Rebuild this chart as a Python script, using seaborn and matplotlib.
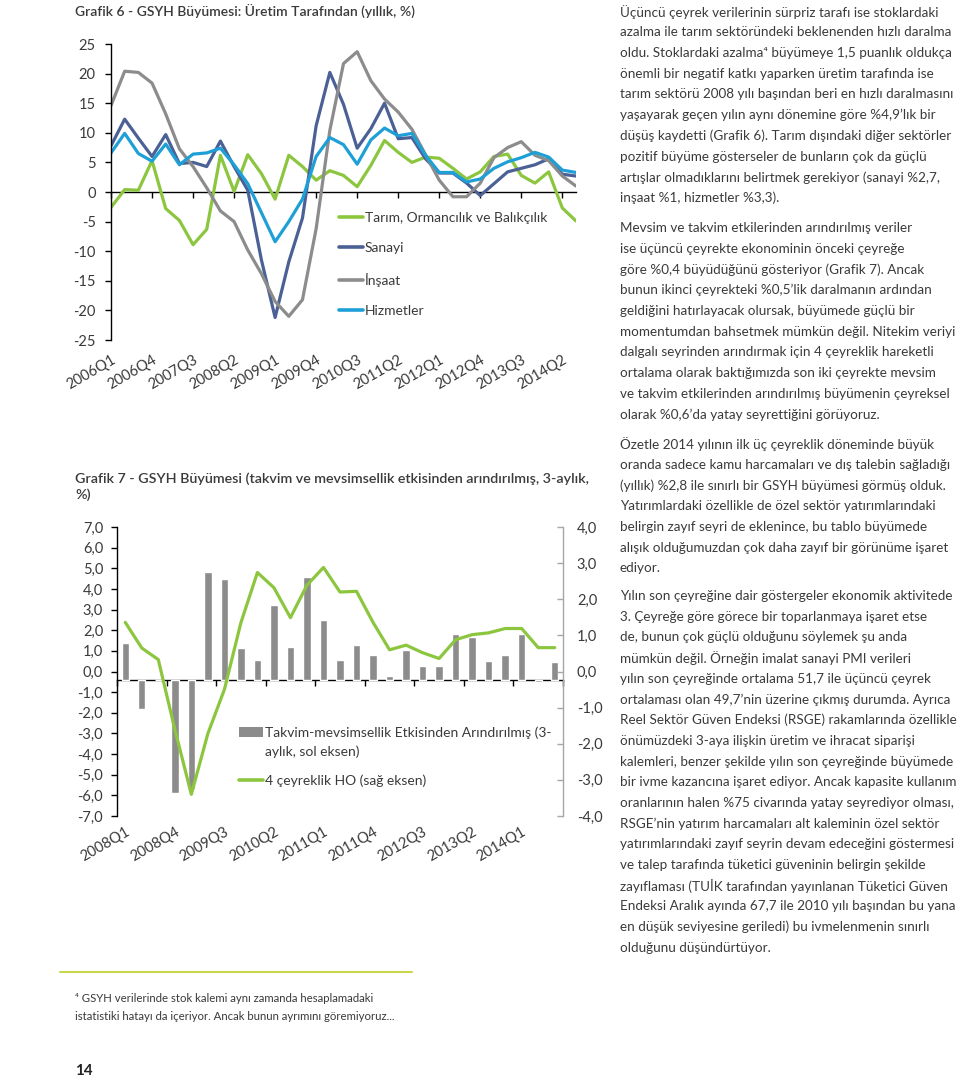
import matplotlib
matplotlib.use('Agg')
import matplotlib.pyplot as plt
from matplotlib.patches import Patch
from matplotlib.lines import Line2D
import seaborn as sns
import numpy as np
import pandas as pd

# ---- Grafik 6 data (yıllık %, 2006Q1-2014Q3) ----
quarters = [f'{y}Q{q}' for y in range(2006, 2015) for q in range(1, 5)][:35]
tarim = [-2.6, 0.4, 0.3, 5.3, -2.8, -4.8, -8.9, -6.3, 6.2, 0.1, 6.3, 3.1, -1.2, 6.2, 4.3, 2.0, 3.6, 2.8,
         0.9, 4.5, 8.7, 6.7, 5.0, 5.9, 5.7, 4.0, 2.2, 3.4, 6.0, 6.4, 2.8, 1.5, 3.4, -2.7, -4.9]
sanayi = [7.8, 12.3, 9.1, 6.0, 9.7, 4.8, 5.0, 4.3, 8.6, 4.3, 0.3, -11.5, -21.2, -11.8, -4.4, 11.2, 20.2, 14.8,
          7.4, 10.7, 15.0, 9.0, 9.2, 5.6, 3.2, 3.2, 1.5, -0.6, 1.4, 3.4, 4.0, 4.6, 5.6, 3.0, 2.7]
insaat = [14.6, 20.4, 20.2, 18.4, 13.2, 7.3, 4.3, 0.7, -3.2, -5.0, -9.8, -13.8, -18.5, -21.0, -18.2, -6.2, 10.4, 21.7,
          23.7, 18.8, 15.7, 13.5, 10.6, 6.3, 2.0, -0.8, -0.8, 1.5, 5.8, 7.5, 8.5, 6.2, 5.3, 2.7, 1.0]
hizmetler = [6.6, 9.9, 6.5, 5.2, 8.1, 4.6, 6.4, 6.6, 7.4, 4.6, 1.4, -3.5, -8.4, -5.0, -1.2, 6.0, 9.2, 8.0,
             4.7, 8.8, 10.8, 9.5, 9.9, 6.2, 3.3, 3.3, 1.7, 2.2, 4.0, 5.1, 5.8, 6.7, 5.9, 3.7, 3.3]
sectors = ['Tarım, Ormancılık ve Balıkçılık', 'Sanayi', 'İnşaat', 'Hizmetler']
sector_colors = ['#8cc63f', '#4b6196', '#8c8c8c', '#1ea0d7']

# ---- Grafik 7 data (2008Q1-2014Q3) ----
quarters7 = quarters[8:]
mevsim = [1.4, -1.8, -0.4, -5.9, -5.7, 4.8, 4.5, 1.15, 0.55, 3.2, 1.2, 4.6, 2.5, 0.55, 1.3, 0.8, -0.24,
          1.05, 0.27, 0.27, 1.8, 1.65, 0.5, 0.8, 1.8, -0.5, 0.44]
ho4 = [1.36, 0.65, 0.33, -1.6, -3.4, -1.72, -0.5, 1.35, 2.74, 2.32, 1.49, 2.39, 2.88, 2.2, 2.22, 1.36, 0.6,
       0.73, 0.52, 0.36, 0.88, 1.02, 1.07, 1.19, 1.19, 0.66, 0.66]
axis_cross = -0.42
green = '#8cc63f'
bar_gray = '#8c8c8c'

paragraphs = [
    ['Üçüncü çeyrek verilerinin sürpriz tarafı ise stoklardaki',
     'azalma ile tarım sektöründeki beklenenden hızlı daralma',
     'oldu. Stoklardaki azalma⁴ büyümeye 1,5 puanlık oldukça',
     'önemli bir negatif katkı yaparken üretim tarafında ise',
     'tarım sektörü 2008 yılı başından beri en hızlı daralmasını',
     'yaşayarak geçen yılın aynı dönemine göre %4,9’lık bir',
     'düşüş kaydetti (Grafik 6). Tarım dışındaki diğer sektörler',
     'pozitif büyüme gösterseler de bunların çok da güçlü',
     'artışlar olmadıklarını belirtmek gerekiyor (sanayi %2,7,',
     'inşaat %1, hizmetler %3,3).'],
    ['Mevsim ve takvim etkilerinden arındırılmış veriler',
     'ise üçüncü çeyrekte ekonominin önceki çeyreğe',
     'göre %0,4 büyüdüğünü gösteriyor (Grafik 7). Ancak',
     'bunun ikinci çeyrekteki %0,5’lik daralmanın ardından',
     'geldiğini hatırlayacak olursak, büyümede güçlü bir',
     'momentumdan bahsetmek mümkün değil. Nitekim veriyi',
     'dalgalı seyrinden arındırmak için 4 çeyreklik hareketli',
     'ortalama olarak baktığımızda son iki çeyrekte mevsim',
     've takvim etkilerinden arındırılmış büyümenin çeyreksel',
     'olarak %0,6’da yatay seyrettiğini görüyoruz.'],
    ['Özetle 2014 yılının ilk üç çeyreklik döneminde büyük',
     'oranda sadece kamu harcamaları ve dış talebin sağladığı',
     '(yıllık) %2,8 ile sınırlı bir GSYH büyümesi görmüş olduk.',
     'Yatırımlardaki özellikle de özel sektör yatırımlarındaki',
     'belirgin zayıf seyri de eklenince, bu tablo büyümede',
     'alışık olduğumuzdan çok daha zayıf bir görünüme işaret',
     'ediyor.'],
    ['Yılın son çeyreğine dair göstergeler ekonomik aktivitede',
     '3. Çeyreğe göre görece bir toparlanmaya işaret etse',
     'de, bunun çok güçlü olduğunu söylemek şu anda',
     'mümkün değil. Örneğin imalat sanayi PMI verileri',
     'yılın son çeyreğinde ortalama 51,7 ile üçüncü çeyrek',
     'ortalaması olan 49,7’nin üzerine çıkmış durumda. Ayrıca',
     'Reel Sektör Güven Endeksi (RSGE) rakamlarında özellikle',
     'önümüzdeki 3-aya ilişkin üretim ve ihracat siparişi',
     'kalemleri, benzer şekilde yılın son çeyreğinde büyümede',
     'bir ivme kazancına işaret ediyor. Ancak kapasite kullanım',
     'oranlarının halen %75 civarında yatay seyrediyor olması,',
     'RSGE’nin yatırım harcamaları alt kaleminin özel sektör',
     'yatırımlarındaki zayıf seyrin devam edeceğini göstermesi',
     've talep tarafında tüketici güveninin belirgin şekilde',
     'zayıflaması (TUİK tarafından yayınlanan Tüketici Güven',
     'Endeksi Aralık ayında 67,7 ile 2010 yılı başından bu yana',
     'en düşük seviyesine geriledi) bu ivmelenmenin sınırlı',
     'olduğunu düşündürtüyor.'],
]
para_top = [11.7, 228, 444, 596]

sns.set_theme(style='white')
plt.rcParams['font.family'] = ['Lato', 'DejaVu Sans']
plt.rcParams['axes.unicode_minus'] = False
TXT = '#3a3a3a'
FS = 10

W, H = 960, 1080
fig = plt.figure(figsize=(9.6, 10.8), dpi=100)


def fx(px):
    return px / W


def fy(py):
    return 1 - py / H


def comma(v):
    return f'{v:.1f}'.replace('.', ',')


# ================= Grafik 6 =================
ax1 = fig.add_axes([fx(111), fy(340), (576 - 111) / W, (340 - 44) / H])
df6 = pd.DataFrame({'idx': np.tile(np.arange(35), 4),
                    'val': tarim + sanayi + insaat + hizmetler,
                    'seri': np.repeat(sectors, 35)})
sns.lineplot(data=df6, x='idx', y='val', hue='seri', hue_order=sectors,
             palette=sector_colors, linewidth=2.3, ax=ax1)
ax1.set_xlim(0, 34)
ax1.set_ylim(-25, 25)
ax1.set_yticks(range(-25, 26, 5))
ax1.set_xticks(range(0, 35, 3))
ax1.set_xticklabels(quarters[::3], rotation=30, ha='right', rotation_mode='anchor')
ax1.tick_params(axis='x', length=0, pad=9, labelsize=10.5, labelcolor=TXT)
ax1.tick_params(axis='y', left=True, length=4, width=1, color='black', direction='out',
                pad=7, labelsize=10.5, labelcolor=TXT)
ax1.set_xlabel('')
ax1.set_ylabel('')
for s in ['top', 'right', 'bottom']:
    ax1.spines[s].set_visible(False)
ax1.spines['left'].set_color('black')
ax1.spines['left'].set_linewidth(1)

sec1 = ax1.secondary_xaxis(0.5)
sec1.set_alignment('bottom')
sec1.set_xticks(range(0, 35, 3))
sec1.set_xticklabels([])
sec1.tick_params(axis='x', bottom=True, length=4, width=1, color='black', direction='out')
sec1.spines['bottom'].set_color('black')
sec1.spines['bottom'].set_linewidth(1)

h1, l1 = ax1.get_legend_handles_labels()
for h in h1:
    h.set_linewidth(2.6)
ax1.legend(h1, l1, loc='upper left', bbox_to_anchor=(fx(339), fy(212)),
           bbox_transform=fig.transFigure, frameon=False, fontsize=FS,
           handlelength=1.7, handletextpad=0.15, labelspacing=1.32,
           borderpad=0, borderaxespad=0, labelcolor=TXT)

fig.text(fx(75), fy(12), 'Grafik 6 - GSYH Büyümesi: Üretim Tarafından (yıllık, %)',
         fontsize=10, fontweight='semibold', color=TXT, ha='left', va='center')

# ================= Grafik 7 =================
ax2 = fig.add_axes([fx(117), fy(816), (563 - 117) / W, (816 - 527) / H])
sns.barplot(x=quarters7, y=mevsim, color=bar_gray, saturation=1, width=0.45, ax=ax2)
for p, v in zip(ax2.patches, mevsim):
    p.set_y(axis_cross)
    p.set_height(v - axis_cross)
ax2r = ax2.twinx()
sns.lineplot(x=np.arange(len(ho4)), y=ho4, color=green, linewidth=2.3, ax=ax2r)

ax2.set_xlim(-0.5, 26.5)
ax2.set_ylim(-7, 7)
ax2r.set_ylim(-4, 4)
ax2.set_yticks(np.arange(-7, 8))
ax2.set_yticklabels([comma(v) for v in np.arange(-7, 8)])
ax2r.set_yticks(np.arange(-4, 5))
ax2r.set_yticklabels([comma(v) for v in np.arange(-4, 5)])
ax2.set_xticks(range(0, 27, 3))
ax2.set_xticklabels(quarters7[::3], rotation=30, ha='right', rotation_mode='anchor')
ax2.tick_params(axis='x', length=0, pad=6, labelsize=10.5, labelcolor=TXT)
ax2.tick_params(axis='y', left=True, length=4, width=1, color='black', direction='out',
                pad=6, labelsize=10.5, labelcolor=TXT)
ax2r.tick_params(axis='y', right=True, length=4, width=1, color='#a6a6a6', direction='in',
                 pad=10, labelsize=10.5, labelcolor=TXT)
for a in (ax2, ax2r):
    a.set_xlabel('')
    a.set_ylabel('')
for s in ['top', 'right', 'bottom']:
    ax2.spines[s].set_visible(False)
for s in ['top', 'left', 'bottom']:
    ax2r.spines[s].set_visible(False)
ax2.spines['left'].set_color('black')
ax2.spines['left'].set_linewidth(1)
ax2r.spines['right'].set_color('#a6a6a6')
ax2r.spines['right'].set_linewidth(1)

sec2 = ax2.secondary_xaxis((axis_cross + 7) / 14)
sec2.set_alignment('bottom')
sec2.set_xticks(np.arange(-0.5, 27, 3))
sec2.set_xticklabels([])
sec2.tick_params(axis='x', bottom=True, length=4, width=1, color='black', direction='out')
sec2.spines['bottom'].set_color('black')
sec2.spines['bottom'].set_linewidth(1)

leg_handles = [Patch(facecolor=bar_gray, edgecolor='none'), Line2D([], [], color=green, lw=2.6)]
ax2r.legend(leg_handles, ['Takvim-mevsimsellik Etkisinden Arındırılmış (3-', '4 çeyreklik HO (sağ eksen)'],
            loc='upper left', bbox_to_anchor=(fx(239), fy(726)), bbox_transform=fig.transFigure,
            frameon=False, fontsize=FS, handlelength=1.7, handleheight=0.7, handletextpad=0.15,
            labelspacing=2.55, borderpad=0, borderaxespad=0, labelcolor=TXT)
fig.text(fx(265), fy(752), 'aylık, sol eksen)', fontsize=FS, color=TXT, ha='left', va='center')

fig.text(fx(75), fy(479), 'Grafik 7 - GSYH Büyümesi (takvim ve mevsimsellik etkisinden arındırılmış, 3-aylık,',
         fontsize=10.3, fontweight='semibold', color=TXT, ha='left', va='center')
fig.text(fx(75), fy(495), '%)', fontsize=10.3, fontweight='semibold', color=TXT, ha='left', va='center')

# ================= body text =================
for top, lines in zip(para_top, paragraphs):
    for i, line in enumerate(lines):
        fig.text(fx(620), fy(top + i * 20.7), line, fontsize=9.7,
                 color=TXT, ha='left', va='center')

# footnote
fig.add_artist(Line2D([fx(60), fx(412)], [fy(972), fy(972)], color='#c8d84e', lw=1.5))
fig.text(fx(75), fy(998), '⁴ GSYH verilerinde stok kalemi aynı zamanda hesaplamadaki',
         fontsize=8.2, color=TXT, ha='left', va='center')
fig.text(fx(75), fy(1016), 'istatistiki hatayı da içeriyor. Ancak bunun ayrımını göremiyoruz...',
         fontsize=8.2, color=TXT, ha='left', va='center')
fig.text(fx(75), fy(1071), '14', fontsize=11, fontweight='bold', color='#222222', ha='left', va='center')

fig.savefig('out.png', dpi=100)
